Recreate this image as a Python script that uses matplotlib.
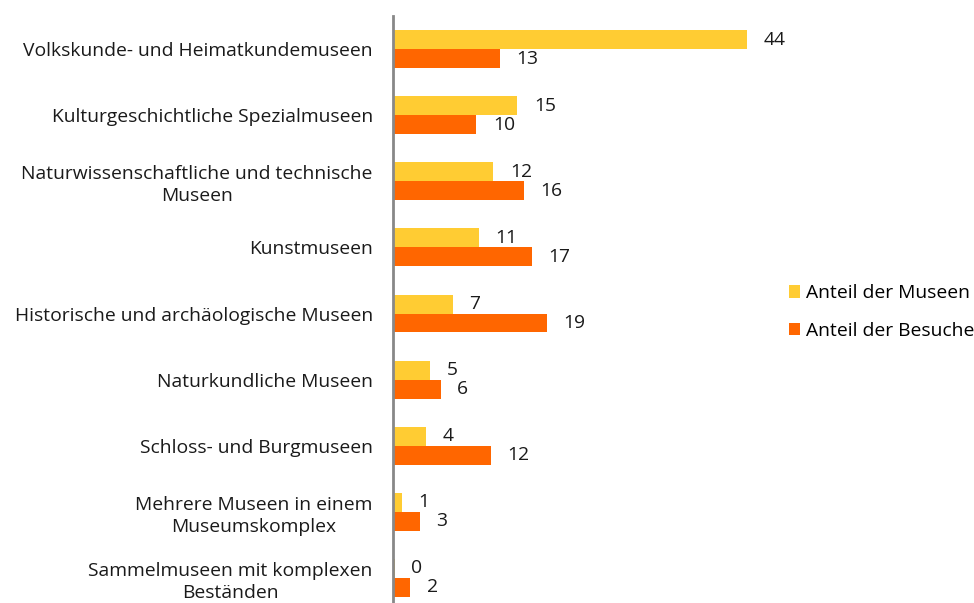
import numpy as np
import matplotlib.pyplot as plt

categories = [
    "Volkskunde- und Heimatkundemuseen",
    "Kulturgeschichtliche Spezialmuseen",
    "Naturwissenschaftliche und technische\nMuseen",
    "Kunstmuseen",
    "Historische und archäologische Museen",
    "Naturkundliche Museen",
    "Schloss- und Burgmuseen",
    "Mehrere Museen in einem\nMuseumskomplex",
    "Sammelmuseen mit komplexen\nBeständen",
]
museen = [43.8, 15.4, 12.4, 10.6, 7.4, 4.6, 4.1, 1.1, 0.2]
besuche = [13.2, 10.3, 16.2, 17.2, 19.0, 5.9, 12.1, 3.3, 2.1]
museen_labels = [44, 15, 12, 11, 7, 5, 4, 1, 0]
besuche_labels = [13, 10, 16, 17, 19, 6, 12, 3, 2]

plt.rcParams['font.family'] = ['Open Sans', 'DejaVu Sans']
fs = 13.9

fig = plt.figure(figsize=(9.74, 6.03), dpi=100)
# bottom of the axes runs a bit past the picture edge, as in the original crop
ax = fig.add_axes([393 / 974, -8 / 603, 388 / 974, 595 / 603])

y = np.arange(len(categories))
h = 0.287
b1 = ax.barh(y - h / 2, museen, height=h, color='#FFCC33', label='Anteil der Museen')
b2 = ax.barh(y + h / 2, besuche, height=h, color='#FF6600', label='Anteil der Besuche')

ax.bar_label(b1, labels=[str(v) for v in museen_labels], padding=12, fontsize=fs, color='#1a1a1a')
ax.bar_label(b2, labels=[str(v) for v in besuche_labels], padding=12, fontsize=fs, color='#1a1a1a')

ax.set_ylim(len(categories) - 0.5, -0.5)
ax.set_xlim(0, 48)
ax.set_yticks(y)
ax.set_yticklabels(categories, fontsize=fs, color='#1a1a1a', multialignment='center',
                   linespacing=1.3)
ax.tick_params(axis='y', length=0, pad=14.5)
ax.set_xticks([])
for s in ['top', 'right', 'bottom']:
    ax.spines[s].set_visible(False)
ax.spines['left'].set_color('#888888')
ax.spines['left'].set_linewidth(2)

fig.legend(loc='center left', bbox_to_anchor=(781 / 974, 1 - 312 / 603), frameon=False,
           fontsize=fs, handlelength=0.6, handleheight=0.6, handletextpad=0.3,
           labelspacing=1.0, borderaxespad=0)

fig.savefig('out.png', dpi=100)
